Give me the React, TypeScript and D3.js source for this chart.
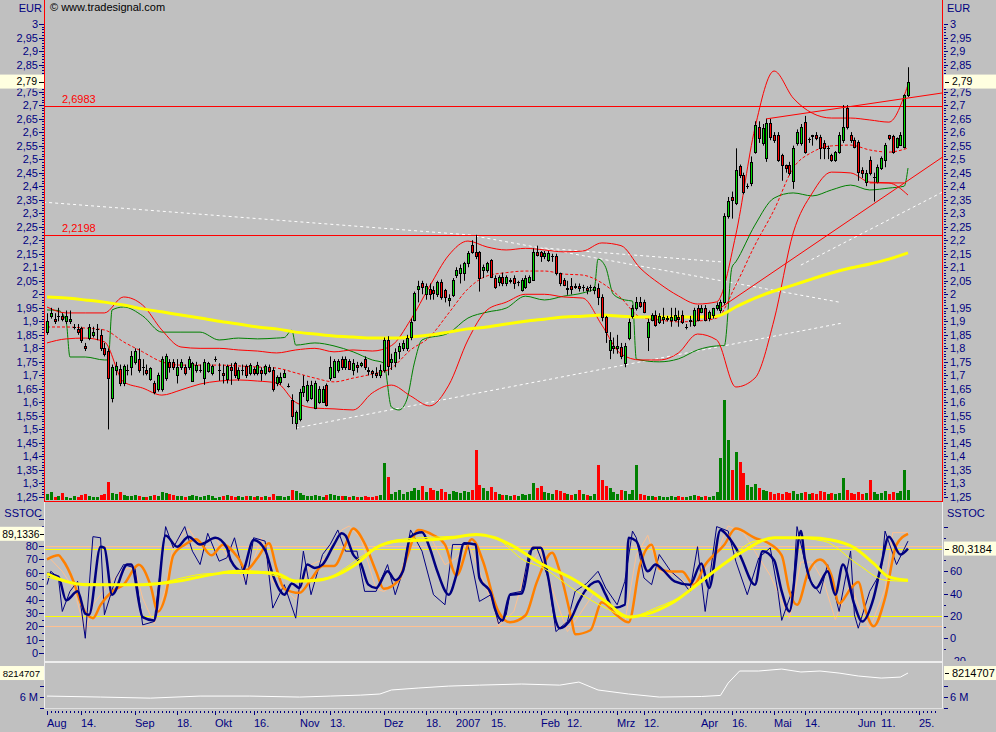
import React from "react";
import * as d3 from "d3";

const WIDTH = 996;
const HEIGHT = 732;
const FONT = "'Liberation Sans', Arial, sans-serif";

// trading calendar (Xetra holidays skipped)
const HOLIDAYS = ["2006-12-25", "2006-12-26", "2007-01-01", "2007-04-06", "2007-04-09", "2007-05-01"];
const FIRST_DAY = "2006-08-01";
const LAST_AXIS_DAY = "2007-06-29";

const MONTH_TICKS: [string, string][] = [
  ["2006-08-01", "Aug"], ["2006-09-01", "Sep"], ["2006-10-02", "Okt"], ["2006-11-01", "Nov"],
  ["2006-12-01", "Dez"], ["2007-01-02", "2007"], ["2007-02-01", "Feb"], ["2007-03-01", "Mrz"],
  ["2007-04-02", "Apr"], ["2007-05-02", "Mai"], ["2007-06-01", "Jun"],
];
const DAY_TICKS = [
  "2006-08-14", "2006-09-18", "2006-10-16", "2006-11-13", "2006-12-18", "2007-01-15",
  "2007-02-12", "2007-03-12", "2007-04-16", "2007-05-14", "2007-06-11", "2007-06-25",
];

// daily candles, EUR
const opens = [
  1.86, 1.92, 1.91, 1.92, 1.92, 1.90, 1.90, 1.88, 1.87, 1.875, 1.81, 1.84, 1.85, 1.87, 1.85, 1.80, 1.79, 1.615, 1.72, 1.725,
  1.67, 1.72, 1.73, 1.75, 1.76, 1.73, 1.72, 1.685, 1.67, 1.65, 1.65, 1.69, 1.75, 1.75, 1.70, 1.73, 1.73, 1.73, 1.68, 1.72,
  1.72, 1.69, 1.715, 1.71, 1.76, 1.72, 1.71, 1.685, 1.73, 1.745, 1.69, 1.72, 1.735, 1.71, 1.725, 1.71, 1.72, 1.71, 1.73, 1.72,
  1.67, 1.675, 1.695, 1.66, 1.61, 1.523, 1.54, 1.64, 1.61, 1.615, 1.58, 1.60, 1.60, 1.665, 1.69, 1.695, 1.72, 1.76, 1.73, 1.755,
  1.72, 1.74, 1.74, 1.76, 1.72, 1.715, 1.71, 1.70, 1.72, 1.83, 1.75, 1.751, 1.79, 1.80, 1.80, 1.843, 1.905, 2.02, 2.04, 2.00,
  2.02, 2.016, 2.00, 2.047, 2.016, 1.98, 1.998, 2.07, 2.078, 2.078, 2.115, 2.183, 2.158, 2.158, 2.09, 2.09, 2.127, 2.06, 2.047, 2.065,
  2.04, 2.05, 2.06, 2.046, 2.016, 2.028, 2.047, 2.053, 2.158, 2.158, 2.14, 2.127, 2.14, 2.14, 2.078, 2.053, 2.02, 2.03, 2.028, 2.03,
  2.028, 2.025, 2.028, 2.016, 2.022, 1.99, 1.917, 1.794, 1.80, 1.80, 1.806, 1.745, 1.837, 1.918, 1.948, 1.973, 1.973, 1.843, 1.905, 1.924,
  1.899, 1.91, 1.91, 1.905, 1.905, 1.915, 1.924, 1.88, 1.90, 1.887, 1.948, 1.936, 1.948, 1.912, 1.924, 1.948, 1.942, 1.97, 2.29, 2.36,
  2.337, 2.475, 2.44, 2.40, 2.41, 2.528, 2.62, 2.56, 2.503, 2.633, 2.59, 2.59, 2.515, 2.478, 2.478, 2.42, 2.558, 2.558, 2.639, 2.575,
  2.59, 2.59, 2.583, 2.56, 2.54, 2.515, 2.497, 2.528, 2.571, 2.688, 2.59, 2.571, 2.565, 2.46, 2.417, 2.497, 2.435, 2.417, 2.466, 2.497,
  2.59, 2.586, 2.546, 2.552, 2.546, 2.737,
];
const highs = [
  1.93, 1.95, 1.93, 1.95, 1.93, 1.94, 1.94, 1.89, 1.89, 1.88, 1.82, 1.89, 1.88, 1.89, 1.87, 1.82, 1.80, 1.74, 1.75, 1.74,
  1.74, 1.74, 1.79, 1.80, 1.80, 1.76, 1.74, 1.73, 1.68, 1.71, 1.77, 1.78, 1.76, 1.76, 1.76, 1.76, 1.74, 1.77, 1.75, 1.75,
  1.74, 1.76, 1.75, 1.74, 1.77, 1.745, 1.74, 1.74, 1.745, 1.75, 1.73, 1.74, 1.74, 1.745, 1.73, 1.75, 1.73, 1.74, 1.74, 1.73,
  1.70, 1.71, 1.72, 1.67, 1.63, 1.57, 1.65, 1.70, 1.68, 1.68, 1.68, 1.66, 1.66, 1.67, 1.77, 1.76, 1.76, 1.77, 1.77, 1.76,
  1.76, 1.75, 1.75, 1.77, 1.73, 1.72, 1.73, 1.74, 1.84, 1.845, 1.78, 1.80, 1.82, 1.83, 1.85, 1.91, 2.01, 2.05, 2.05, 2.04,
  2.04, 2.03, 2.05, 2.055, 2.02, 2.00, 2.06, 2.10, 2.11, 2.12, 2.16, 2.20, 2.22, 2.16, 2.11, 2.12, 2.13, 2.07, 2.07, 2.08,
  2.07, 2.06, 2.07, 2.05, 2.06, 2.07, 2.07, 2.17, 2.18, 2.16, 2.16, 2.16, 2.15, 2.15, 2.08, 2.06, 2.05, 2.06, 2.04, 2.04,
  2.035, 2.03, 2.035, 2.03, 2.04, 2.00, 1.92, 1.86, 1.84, 1.85, 1.82, 1.82, 1.91, 1.96, 1.99, 1.99, 1.98, 1.91, 1.93, 1.94,
  1.93, 1.95, 1.92, 1.95, 1.95, 1.94, 1.94, 1.89, 1.92, 1.95, 1.96, 1.96, 1.96, 1.94, 1.95, 1.97, 1.98, 2.30, 2.36, 2.38,
  2.54, 2.48, 2.45, 2.41, 2.51, 2.64, 2.64, 2.63, 2.65, 2.65, 2.60, 2.60, 2.52, 2.48, 2.49, 2.55, 2.61, 2.63, 2.66, 2.58,
  2.59, 2.60, 2.59, 2.57, 2.55, 2.52, 2.53, 2.60, 2.70, 2.70, 2.60, 2.58, 2.57, 2.47, 2.46, 2.51, 2.45, 2.48, 2.51, 2.56,
  2.59, 2.59, 2.58, 2.60, 2.74, 2.84,
];
const lows = [
  1.85, 1.91, 1.89, 1.90, 1.90, 1.89, 1.89, 1.87, 1.85, 1.82, 1.79, 1.83, 1.84, 1.83, 1.79, 1.77, 1.50, 1.60, 1.70, 1.66,
  1.66, 1.70, 1.70, 1.74, 1.71, 1.70, 1.70, 1.68, 1.63, 1.64, 1.64, 1.68, 1.71, 1.72, 1.67, 1.72, 1.70, 1.72, 1.68, 1.71,
  1.71, 1.665, 1.71, 1.70, 1.75, 1.68, 1.67, 1.67, 1.665, 1.69, 1.68, 1.70, 1.69, 1.70, 1.70, 1.70, 1.68, 1.70, 1.71, 1.64,
  1.66, 1.665, 1.69, 1.655, 1.52, 1.50, 1.53, 1.62, 1.60, 1.61, 1.575, 1.595, 1.60, 1.585, 1.68, 1.69, 1.71, 1.72, 1.72, 1.72,
  1.70, 1.71, 1.73, 1.72, 1.70, 1.69, 1.69, 1.69, 1.71, 1.70, 1.72, 1.73, 1.76, 1.79, 1.79, 1.83, 1.90, 1.97, 2.00, 1.98,
  1.98, 1.98, 1.99, 1.98, 1.97, 1.955, 1.99, 2.06, 2.04, 2.05, 2.10, 2.15, 2.13, 2.01, 2.06, 2.08, 2.06, 2.02, 2.03, 2.03,
  2.03, 2.04, 2.02, 2.03, 2.01, 2.02, 2.04, 2.05, 2.14, 2.12, 2.13, 2.12, 2.12, 2.07, 2.03, 2.03, 1.998, 2.00, 2.02, 2.01,
  2.01, 2.00, 2.01, 2.00, 1.96, 1.90, 1.82, 1.76, 1.78, 1.78, 1.76, 1.73, 1.83, 1.91, 1.94, 1.95, 1.93, 1.79, 1.90, 1.88,
  1.89, 1.89, 1.90, 1.88, 1.90, 1.88, 1.89, 1.87, 1.88, 1.88, 1.90, 1.93, 1.90, 1.90, 1.91, 1.94, 1.93, 1.96, 2.28, 2.28,
  2.33, 2.43, 2.37, 2.39, 2.40, 2.52, 2.56, 2.55, 2.49, 2.57, 2.56, 2.49, 2.42, 2.45, 2.44, 2.39, 2.55, 2.55, 2.52, 2.56,
  2.55, 2.57, 2.50, 2.50, 2.50, 2.49, 2.49, 2.52, 2.56, 2.61, 2.56, 2.54, 2.42, 2.43, 2.40, 2.44, 2.343, 2.41, 2.46, 2.47,
  2.57, 2.52, 2.54, 2.55, 2.54, 2.73,
];
const closes = [
  1.90, 1.93, 1.90, 1.92, 1.91, 1.92, 1.91, 1.88, 1.86, 1.83, 1.80, 1.88, 1.86, 1.87, 1.80, 1.78, 1.69, 1.73, 1.735, 1.67,
  1.735, 1.72, 1.77, 1.79, 1.72, 1.73, 1.71, 1.726, 1.64, 1.70, 1.76, 1.77, 1.73, 1.73, 1.73, 1.75, 1.71, 1.76, 1.745, 1.74,
  1.72, 1.75, 1.745, 1.735, 1.76, 1.72, 1.70, 1.735, 1.72, 1.70, 1.72, 1.72, 1.70, 1.74, 1.71, 1.74, 1.71, 1.735, 1.715, 1.65,
  1.695, 1.695, 1.71, 1.66, 1.55, 1.566, 1.64, 1.66, 1.665, 1.665, 1.67, 1.65, 1.65, 1.59, 1.73, 1.755, 1.755, 1.73, 1.76, 1.725,
  1.745, 1.73, 1.745, 1.73, 1.715, 1.71, 1.70, 1.72, 1.83, 1.733, 1.76, 1.788, 1.81, 1.82, 1.84, 1.899, 2.004, 2.03, 2.028, 2.03,
  2.00, 2.005, 2.047, 1.99, 1.99, 1.985, 2.053, 2.09, 2.096, 2.115, 2.152, 2.158, 2.14, 2.06, 2.10, 2.115, 2.065, 2.028, 2.065, 2.04,
  2.065, 2.053, 2.04, 2.046, 2.053, 2.06, 2.065, 2.158, 2.146, 2.14, 2.152, 2.152, 2.14, 2.078, 2.04, 2.035, 2.025, 2.02, 2.03, 2.025,
  2.028, 2.016, 2.028, 2.028, 1.99, 1.917, 1.862, 1.831, 1.81, 1.81, 1.77, 1.81, 1.899, 1.948, 1.973, 1.955, 1.936, 1.899, 1.924, 1.887,
  1.918, 1.915, 1.912, 1.915, 1.924, 1.91, 1.899, 1.88, 1.905, 1.942, 1.905, 1.948, 1.905, 1.936, 1.948, 1.96, 1.973, 2.29, 2.345, 2.35,
  2.46, 2.44, 2.38, 2.40, 2.49, 2.627, 2.577, 2.614, 2.633, 2.583, 2.57, 2.497, 2.478, 2.466, 2.448, 2.54, 2.60, 2.62, 2.528, 2.575,
  2.585, 2.577, 2.54, 2.54, 2.54, 2.497, 2.528, 2.59, 2.62, 2.62, 2.571, 2.546, 2.454, 2.448, 2.448, 2.448, 2.435, 2.472, 2.503, 2.552,
  2.577, 2.528, 2.577, 2.59, 2.737, 2.787,
];
// thousand shares
const volumes = [
  60, 80, 30, 40, 70, 30, 20, 40, 30, 50, 60, 40, 30, 30, 50, 60, 180, 70, 60, 80,
  50, 40, 40, 50, 40, 30, 30, 40, 50, 40, 80, 70, 60, 50, 40, 40, 30, 40, 50, 40,
  30, 40, 50, 40, 20, 30, 40, 50, 40, 30, 40, 30, 40, 40, 30, 40, 30, 40, 30, 60,
  40, 40, 30, 40, 100, 90, 70, 50, 40, 40, 50, 40, 30, 50, 60, 50, 40, 40, 40, 30,
  40, 30, 30, 40, 30, 30, 40, 50, 370, 230, 60, 80, 100, 60, 80, 90, 120, 100, 140, 80,
  120, 100, 90, 110, 80, 60, 90, 80, 70, 90, 80, 100, 500, 150, 120, 90, 130, 80, 60, 50,
  50, 40, 50, 40, 60, 50, 60, 170, 120, 140, 80, 70, 60, 100, 90, 70, 60, 50, 60, 100,
  60, 50, 40, 60, 350, 200, 140, 120, 80, 60, 100, 90, 60, 100, 350, 60, 50, 40, 40, 30,
  40, 30, 30, 40, 30, 40, 30, 30, 40, 50, 40, 30, 40, 30, 40, 80, 420, 1000, 600, 300,
  480, 380, 270, 150, 130, 160, 120, 100, 90, 80, 60, 70, 60, 80, 70, 90, 60, 70, 80, 60,
  70, 60, 90, 80, 60, 70, 60, 70, 220, 100, 70, 60, 80, 60, 70, 200, 80, 60, 70, 90,
  60, 80, 70, 90, 300, 100,
];

// bands and average, one value every 5 trading days
const bbUpper = [1.953, 1.931, 1.931, 1.931, 1.99, 1.96, 1.868, 1.805, 1.80, 1.80, 1.794, 1.79, 1.783, 1.794, 1.80, 1.787, 1.794, 1.79, 1.81, 1.905, 2.03, 2.145, 2.197, 2.175, 2.164, 2.17, 2.164, 2.157, 2.16, 2.19, 2.18, 2.097, 2.04, 1.994, 1.964, 1.972, 2.22, 2.615, 2.826, 2.726, 2.67, 2.652, 2.652, 2.645, 2.637, 2.775];
const bbMiddle = [1.879, 1.879, 1.875, 1.868, 1.824, 1.787, 1.75, 1.738, 1.738, 1.738, 1.735, 1.731, 1.727, 1.709, 1.69, 1.676, 1.69, 1.705, 1.727, 1.794, 1.842, 1.931, 2.02, 2.068, 2.08, 2.086, 2.086, 2.075, 2.071, 2.042, 1.986, 1.916, 1.905, 1.898, 1.901, 1.912, 2.034, 2.182, 2.312, 2.467, 2.526, 2.549, 2.552, 2.534, 2.526, 2.541];
const bbLower = [1.82, 1.835, 1.838, 1.824, 1.676, 1.653, 1.627, 1.646, 1.668, 1.679, 1.683, 1.679, 1.672, 1.60, 1.579, 1.576, 1.572, 1.635, 1.664, 1.624, 1.587, 1.664, 1.831, 1.942, 1.971, 2.00, 2.00, 1.99, 1.986, 1.886, 1.779, 1.757, 1.757, 1.783, 1.853, 1.831, 1.657, 1.69, 1.905, 2.227, 2.375, 2.452, 2.449, 2.415, 2.412, 2.367];
const movingAvg = [1.99, 1.986, 1.979, 1.971, 1.96, 1.946, 1.935, 1.923, 1.912, 1.90, 1.89, 1.879, 1.872, 1.86, 1.853, 1.846, 1.842, 1.838, 1.838, 1.842, 1.849, 1.86, 1.872, 1.879, 1.89, 1.90, 1.908, 1.916, 1.919, 1.923, 1.919, 1.916, 1.916, 1.916, 1.916, 1.919, 1.953, 1.986, 2.012, 2.034, 2.057, 2.079, 2.097, 2.112, 2.13, 2.153];
// green stop line [day, price]
const greenBand: [number, number][] = [[0,1.942],[3,1.94],[5,1.90],[6,1.768],[10,1.768],[15,1.757],[16,1.757],[17,1.942],[20,1.953],[25,1.92],[30,1.86],[35,1.86],[40,1.86],[45,1.831],[50,1.838],[55,1.835],[60,1.838],[62,1.84],[64,1.867],[65,1.812],[70,1.82],[75,1.809],[80,1.787],[85,1.757],[88,1.746],[90,1.583],[92,1.572],[94,1.609],[96,1.746],[98,1.831],[105,1.857],[110,1.912],[115,1.934],[120,1.949],[125,1.993],[130,1.979],[135,1.993],[140,2.005],[143,2.02],[144,2.13],[146,2.10],[148,2.0],[151,1.979],[153,1.975],[154,1.76],[160,1.75],[165,1.761],[170,1.794],[175,1.809],[177,1.81],[179,2.1],[180,2.12],[185,2.256],[190,2.356],[195,2.375],[200,2.364],[205,2.386],[210,2.404],[215,2.386],[220,2.393],[224,2.40],[225,2.467]];

// drawn levels and trend lines [day, price]
const levels = [2.6983, 2.2198];
const whiteTrends: [number, number][][] = [
  [[-1, 2.341], [111, 2.219]],
  [[112, 2.215], [207, 1.971]],
  [[130, 2.171], [177, 2.119]],
  [[65, 1.505], [208, 1.894]],
  [[197, 2.108], [234, 2.378]],
];
const redTrends: [number, number][][] = [
  [[176, 1.95], [235, 2.517]],
  [[188, 2.649], [235, 2.747]],
  [[215, 2.412], [224, 2.412]],
];

// stochastic panel [day, value]
const stochK: [number, number][] = [[0,58],[3,55],[5,34],[8,42],[10,22],[11,21],[14,82],[15,81],[17,39],[21,66],[22,66],[25,19],[28,16],[31,92],[34,82],[37,91],[40,84],[44,90],[47,81],[48,70],[51,60],[54,88],[57,79],[59,57],[61,42],[62,39],[64,49],[66,45],[68,66],[70,63],[72,66],[75,84],[77,94],[78,92],[80,75],[82,67],[84,48],[86,45],[89,60],[91,52],[93,60],[95,91],[98,95],[100,81],[102,60],[105,39],[107,57],[109,85],[112,84],[113,54],[116,40],[117,27],[119,16],[121,39],[124,40],[127,81],[129,81],[131,54],[133,15],[134,9],[137,18],[139,33],[142,48],[144,51],[146,39],[148,27],[151,30],[152,90],[154,87],[157,60],[159,66],[161,61],[164,51],[168,48],[171,67],[173,45],[176,97],[178,91],[181,75],[185,48],[187,78],[190,70],[192,42],[194,24],[197,96],[198,72],[201,45],[204,60],[206,39],[208,66],[211,30],[213,15],[216,36],[218,66],[220,91],[223,75],[225,80.3184]];
const stochRaw: [number, number][] = [[0,48],[1,60],[3,54],[4,24],[6,42],[8,51],[10,0],[12,91],[14,90],[15,21],[18,54],[20,66],[23,63],[25,12],[28,15],[31,100],[33,81],[36,100],[38,78],[40,66],[42,94],[45,69],[47,72],[49,90],[52,48],[54,90],[57,87],[59,27],[62,48],[65,18],[67,78],[69,39],[72,75],[74,84],[76,97],[78,78],[81,78],[83,42],[86,42],[89,66],[91,39],[93,60],[95,97],[98,78],[101,39],[104,30],[106,84],[110,84],[113,33],[116,39],[118,13],[120,21],[121,40],[124,42],[126,78],[128,81],[131,54],[133,6],[136,15],[138,42],[141,49],[144,60],[146,45],[149,30],[151,51],[153,96],[154,90],[156,54],[158,48],[160,75],[163,60],[166,51],[168,42],[170,82],[172,24],[174,75],[175,100],[178,96],[180,69],[183,39],[186,72],[189,81],[191,42],[192,16],[195,45],[196,100],[199,54],[202,40],[204,66],[207,24],[210,78],[211,21],[212,9],[215,42],[218,60],[219,96],[222,66],[225,87]];
const stochSlow: [number, number][] = [[0,70],[3,73],[4,70],[7,53],[9,36],[12,26],[14,36],[17,46],[20,51],[24,66],[27,51],[29,31],[31,43],[33,73],[36,81],[39,85],[43,73],[46,81],[50,71],[52,62],[55,71],[58,82],[60,63],[62,48],[66,45],[69,55],[72,65],[75,65],[78,81],[80,93],[83,82],[86,61],[88,48],[92,55],[94,71],[97,92],[101,88],[104,81],[107,58],[111,85],[114,68],[117,38],[118,31],[121,23],[125,28],[128,53],[132,75],[134,61],[137,26],[138,14],[142,17],[145,38],[149,28],[152,23],[155,66],[158,81],[160,63],[163,61],[166,61],[169,51],[172,66],[177,81],[180,93],[185,86],[188,83],[192,73],[194,46],[196,36],[199,61],[202,70],[205,58],[207,37],[210,48],[212,53],[214,31],[216,20],[219,41],[222,81],[225,89.1336]];
const stochSlowRaw: [number, number][] = [[0,73],[4,61],[7,48],[10,16],[12,36],[16,51],[20,63],[23,63],[25,41],[28,22],[31,48],[33,81],[37,93],[40,80],[44,86],[47,73],[52,53],[56,86],[59,53],[62,48],[65,40],[69,66],[73,71],[77,92],[79,95],[82,86],[86,48],[88,46],[92,53],[94,76],[97,93],[100,88],[104,66],[107,71],[110,83],[113,61],[117,33],[118,20],[122,31],[125,61],[129,77],[132,48],[136,16],[139,28],[143,45],[147,36],[151,23],[154,73],[157,88],[160,61],[165,58],[168,48],[172,63],[174,68],[178,95],[182,90],[185,76],[189,58],[194,26],[197,68],[200,68],[203,53],[206,25],[210,52],[212,36],[215,18],[219,48],[221,90],[225,90]];
const stochTrend: [number, number][] = [[0,58],[4,52],[10,48],[17,48],[25,48],[34,51],[43,57],[50,60],[56,59],[60,58],[65,51],[71,52],[76,57],[81,67],[86,81],[92,87],[99,88],[106,90],[112,93],[117,90],[121,84],[129,67],[138,52],[146,33],[152,19],[156,21],[164,33],[172,54],[181,76],[190,90],[199,90],[205,88],[211,81],[216,67],[220,55],[225,52]];
const stochTrendThin: [number, number][] = [[0,55],[8,49],[25,48],[43,58],[56,58],[65,52],[73,54],[78,63],[83,75],[91,88],[104,91],[113,92],[117,90],[125,69],[129,64],[138,43],[146,27],[152,19],[159,27],[168,42],[177,67],[185,87],[194,90],[203,87],[212,66],[219,52],[225,51]];

// lower panel, millions [day, value]
const flowLine: [number, number][] = [[0,6.09],[14,6.0],[27,5.9],[40,6.09],[53,6.09],[66,6.0],[74,6.09],[82,6.18],[87,6.28],[90,6.65],[97,6.83],[105,7.01],[113,7.1],[124,7.2],[134,7.1],[139,7.38],[144,6.65],[152,6.28],[160,6.0],[171,6.05],[176,6.15],[178,7.29],[181,8.4],[186,8.4],[192,8.58],[197,8.31],[202,8.4],[207,8.21],[212,7.94],[218,7.75],[223,7.84],[225,8.214707]];

const GREEN = "#00D800";
const RED = "#FF0000";
const NAVY = "#000080";

function buildCalendar(from: string, to: string) {
  const out: string[] = [];
  const d = new Date(from + "T12:00:00Z");
  const end = new Date(to + "T12:00:00Z");
  while (d <= end) {
    const wd = d.getUTCDay();
    const iso = d.toISOString().slice(0, 10);
    if (wd !== 0 && wd !== 6 && !HOLIDAYS.includes(iso)) out.push(iso);
    d.setUTCDate(d.getUTCDate() + 1);
  }
  return out;
}

const comma = (v: number, f = ".2~f") => d3.format(f)(v).replace(".", ",");

export default function App() {
  const days = buildCalendar(FIRST_DAY, LAST_AXIS_DAY);
  const n = closes.length;
  const x = d3.scaleLinear().domain([0, n - 1]).range([47, 908]);
  const yP = d3.scaleLinear().domain([1.25, 3]).range([497, 24]);
  const yV = d3.scaleLinear().domain([0, 1000]).range([500, 400]);
  const yR = d3.scaleLinear().domain([-20, 100]).range([660.6, 526.6]);
  const yL = d3.scaleLinear().domain([0, 100]).range([653, 519.25]);
  const yB = d3.scaleLinear().domain([5, 9]).range([707.9, 664.5]);

  const weekly = (arr: number[]) => arr.map((v, i) => [i * 5, v] as [number, number]);
  const priceLine = d3.line<[number, number]>().x((d) => x(d[0])).y((d) => yP(d[1])).curve(d3.curveMonotoneX);
  const straight = d3.line<[number, number]>().x((d) => x(d[0])).y((d) => yP(d[1]));
  const rLine = (curve: d3.CurveFactory) => d3.line<[number, number]>().x((d) => x(d[0])).y((d) => yR(d[1])).curve(curve);
  const lLine = (curve: d3.CurveFactory) => d3.line<[number, number]>().x((d) => x(d[0])).y((d) => yL(d[1])).curve(curve);
  const bLine = d3.line<[number, number]>().x((d) => x(d[0])).y((d) => yB(d[1]));

  const last = closes[n - 1];
  const priceMajor = d3.range(125, 301, 5).map((v) => v / 100);
  const priceMinor = d3.range(125, 301).map((v) => v / 100);
  // the last-price box hides the label behind it
  const priceLabels = priceMajor.filter((p) => Math.abs(yP(p) - yP(last)) > 8);

  const txt = { fontFamily: FONT, fontSize: 11 } as const;

  return (
    <svg width={WIDTH} height={HEIGHT} style={{ position: "absolute", left: 0, top: 0, background: "#C0C0C0" }}>
      <defs>
        <clipPath id="mainClip"><rect x={45} y={0} width={897} height={501} /></clipPath>
        <clipPath id="stochClip"><rect x={45} y={503} width={897} height={158} /></clipPath>
        <clipPath id="flowClip"><rect x={45} y={664} width={897} height={43} /></clipPath>
        <clipPath id="rightStochAxis"><rect x={943} y={503} width={53} height={158} /></clipPath>
      </defs>
      <rect x={0} y={0} width={WIDTH} height={HEIGHT} fill="#C0C0C0" />

      {/* main panel */}
      <g clipPath="url(#mainClip)">
        {volumes.map((v, i) => (
          <rect key={"v" + i} x={Math.round(x(i)) - 1} y={yV(v)} width={3} height={500 - yV(v)}
            fill={closes[i] >= opens[i] ? "#008000" : RED} />
        ))}
        {whiteTrends.map((t, i) => (
          <path key={"w" + i} d={straight(t) || ""} stroke="#FFFFFF" strokeWidth={1} strokeDasharray="3,3" fill="none" />
        ))}
        {levels.map((lv) => (
          <line key={lv} x1={45} x2={942} y1={Math.round(yP(lv)) + 0.5} y2={Math.round(yP(lv)) + 0.5} stroke={RED} />
        ))}
        <path d={priceLine(greenBand) || ""} stroke="#008000" fill="none" strokeWidth={1} />
        <path d={priceLine(weekly(bbUpper)) || ""} stroke={RED} fill="none" strokeWidth={1} />
        <path d={priceLine(weekly(bbLower)) || ""} stroke={RED} fill="none" strokeWidth={1} />
        <path d={priceLine(weekly(bbMiddle)) || ""} stroke={RED} fill="none" strokeWidth={1} strokeDasharray="3,2" />
        <path d={priceLine(weekly(movingAvg)) || ""} stroke="#FFFF00" fill="none" strokeWidth={3} />
        {closes.map((c, i) => {
          const cx = Math.round(x(i));
          const o = opens[i];
          const top = Math.round(yP(Math.max(o, c)));
          const bot = Math.round(yP(Math.min(o, c)));
          return (
            <g key={"c" + i}>
              <line x1={cx + 0.5} x2={cx + 0.5} y1={yP(highs[i])} y2={yP(lows[i])} stroke="#000" />
              {bot - top < 1 ? (
                <line x1={cx - 1} x2={cx + 2} y1={top + 0.5} y2={top + 0.5} stroke="#000" />
              ) : (
                <rect x={cx - 0.5} y={top + 0.5} width={2} height={bot - top} fill={c >= o ? GREEN : RED} stroke="#000" />
              )}
            </g>
          );
        })}
        {redTrends.map((t, i) => (
          <path key={"r" + i} d={straight(t) || ""} stroke={RED} strokeWidth={1} fill="none" />
        ))}
        {levels.map((lv) => (
          <text key={"t" + lv} x={62} y={yP(lv) - 3} fill={RED} {...txt}>{comma(lv, ".4f")}</text>
        ))}
      </g>
      <text x={50} y={11} fill="#000" {...txt}>© www.tradesignal.com</text>

      {/* price axes */}
      {priceMinor.map((p) => (
        <g key={"pm" + p}>
          <rect x={42} y={Math.round(yP(p))} width={2} height={1} fill={NAVY} />
          <rect x={944} y={Math.round(yP(p))} width={2} height={1} fill={NAVY} />
        </g>
      ))}
      {priceMajor.map((p) => (
        <g key={"pM" + p}>
          <rect x={39} y={Math.round(yP(p))} width={5} height={1} fill={NAVY} />
          <rect x={944} y={Math.round(yP(p))} width={4} height={1} fill={NAVY} />
        </g>
      ))}
      {priceLabels.map((p) => (
        <g key={"pl" + p}>
          <text x={38} y={yP(p) + 4} textAnchor="end" fill={NAVY} {...txt}>{comma(p)}</text>
          <text x={950} y={yP(p) + 4} fill={NAVY} {...txt}>{comma(p)}</text>
        </g>
      ))}
      <text x={42} y={12} textAnchor="end" fill={NAVY} {...txt}>EUR</text>
      <text x={947} y={12} fill={NAVY} {...txt}>EUR</text>
      <rect x={0} y={yP(last) - 7} width={44} height={14} fill="#FFFFE0" />
      <rect x={39} y={Math.round(yP(last))} width={5} height={1} fill="#000" />
      <text x={37} y={yP(last) + 3} textAnchor="end" fill="#000" fontFamily={FONT} fontSize={10.5}>{comma(last)}</text>
      <rect x={944} y={yP(last) - 7} width={52} height={14} fill="#FFFFE0" />
      <rect x={945} y={Math.round(yP(last))} width={4} height={1} fill="#000" />
      <text x={952} y={yP(last) + 3} fill="#000" fontFamily={FONT} fontSize={10.5}>{comma(last)}</text>

      <line x1={44.5} x2={44.5} y1={0} y2={502} stroke={RED} />
      <line x1={942.5} x2={942.5} y1={0} y2={502} stroke={RED} />
      <line x1={44} x2={943} y1={501.5} y2={501.5} stroke={RED} />

      {/* stochastic panel */}
      <g clipPath="url(#stochClip)">
        {[80, 20].map((v) => (
          <line key={"ol" + v} x1={45} x2={942} y1={Math.round(yL(v)) + 0.5} y2={Math.round(yL(v)) + 0.5} stroke="#FFC090" />
        ))}
        {[80, 20].map((v) => (
          <line key={"yl" + v} x1={45} x2={942} y1={Math.round(yR(v)) + 0.5} y2={Math.round(yR(v)) + 0.5} stroke="#FFFF00" />
        ))}
        <path d={lLine(d3.curveLinear)(stochSlowRaw) || ""} stroke="#FFC090" strokeWidth={1} fill="none" />
        <path d={rLine(d3.curveLinear)(stochRaw) || ""} stroke={NAVY} strokeWidth={1} fill="none" />
        <path d={lLine(d3.curveMonotoneX)(stochSlow) || ""} stroke="#FF8000" strokeWidth={2.5} fill="none" />
        <path d={rLine(d3.curveMonotoneX)(stochK) || ""} stroke={NAVY} strokeWidth={2.5} fill="none" />
        <path d={rLine(d3.curveMonotoneX)(stochTrendThin) || ""} stroke="#FFFF00" strokeWidth={1} fill="none" />
        <path d={rLine(d3.curveMonotoneX)(stochTrend) || ""} stroke="#FFFF00" strokeWidth={3} fill="none" />
      </g>
      <text x={42} y={517} textAnchor="end" fill={NAVY} {...txt}>SSTOC</text>
      <text x={947} y={517} fill={NAVY} {...txt}>SSTOC</text>
      {d3.range(0, 101, 5).map((v) => (
        <rect key={"sl" + v} x={v % 10 === 0 ? 39 : 42} y={Math.round(yL(v))} width={v % 10 === 0 ? 5 : 2} height={1} fill={NAVY} />
      ))}
      {d3.range(0, 81, 10).map((v) => (
        <text key={"slt" + v} x={38} y={yL(v) + 4} textAnchor="end" fill={NAVY} {...txt}>{v}</text>
      ))}
      <g clipPath="url(#rightStochAxis)">
        {d3.range(-20, 101, 10).map((v) => (
          <rect key={"sr" + v} x={944} y={Math.round(yR(v))} width={v % 20 === 0 ? 4 : 2} height={1} fill={NAVY} />
        ))}
        {[-20, 0, 20, 40, 60].map((v) => (
          <text key={"srt" + v} x={950} y={yR(v) + 4} fill={NAVY} {...txt}>{v}</text>
        ))}
      </g>
      <rect x={0} y={yL(89.1336) - 7} width={44} height={14} fill="#FFFFE0" />
      <rect x={40} y={Math.round(yL(89.1336))} width={4} height={1} fill="#000" />
      <text x={39.5} y={yL(89.1336) + 4} textAnchor="end" fill="#000" fontFamily={FONT} fontSize={10.3}>{comma(89.1336, ".4f")}</text>
      <rect x={944} y={yR(80.3184) - 7} width={52} height={14} fill="#FFFFE0" />
      <rect x={945} y={Math.round(yR(80.3184))} width={4} height={1} fill="#000" />
      <text x={952} y={yR(80.3184) + 4} fill="#000" {...txt}>{comma(80.3184, ".4f")}</text>

      {/* lower panel */}
      <g clipPath="url(#flowClip)">
        <path d={bLine(flowLine) || ""} stroke="#FFFFFF" strokeWidth={1} fill="none" />
      </g>
      {[5, 6, 7, 8].map((v) => (
        <g key={"b" + v}>
          <rect x={40} y={Math.round(yB(v))} width={4} height={1} fill={NAVY} />
          <rect x={944} y={Math.round(yB(v))} width={4} height={1} fill={NAVY} />
        </g>
      ))}
      <text x={38} y={yB(6) + 4} textAnchor="end" fill={NAVY} {...txt}>6 M</text>
      <text x={950} y={yB(6) + 4} fill={NAVY} {...txt}>6 M</text>
      <rect x={0} y={yB(8.214707) - 7} width={44} height={14} fill="#FFFFE0" />
      <text x={40} y={yB(8.214707) + 4} textAnchor="end" fill="#000" fontFamily={FONT} fontSize={9.6}>8214707</text>
      <rect x={944} y={yB(8.214707) - 7} width={52} height={14} fill="#FFFFE0" />
      <rect x={945} y={Math.round(yB(8.214707))} width={4} height={1} fill="#000" />
      <text x={952} y={yB(8.214707) + 4} fill="#000" {...txt}>8214707</text>

      {/* lower panel frames */}
      <line x1={44.5} x2={44.5} y1={502} y2={709} stroke="#EEEEEE" />
      <line x1={942.5} x2={942.5} y1={502} y2={709} stroke="#EEEEEE" />
      <line x1={44} x2={943} y1={662} y2={662} stroke="#EEEEEE" strokeWidth={2} />
      <line x1={44} x2={943} y1={708.5} y2={708.5} stroke="#E0E0E0" />

      {/* time axis */}
      {days.map((d, i) => (
        <rect key={"d" + d} x={Math.round(x(i))} y={711} width={1} height={2} fill={NAVY} />
      ))}
      {MONTH_TICKS.map(([d, label]) => {
        const xi = Math.round(x(days.indexOf(d)));
        return (
          <g key={"m" + d}>
            <rect x={xi} y={711} width={1} height={4} fill={NAVY} />
            <text x={xi} y={727} fill={NAVY} {...txt}>{label}</text>
          </g>
        );
      })}
      {DAY_TICKS.map((d) => {
        const xi = Math.round(x(days.indexOf(d)));
        return (
          <g key={"w" + d}>
            <rect x={xi} y={711} width={1} height={4} fill={NAVY} />
            <text x={xi} y={727} fill={NAVY} {...txt}>{+d.slice(8) + "."}</text>
          </g>
        );
      })}
    </svg>
  );
}
